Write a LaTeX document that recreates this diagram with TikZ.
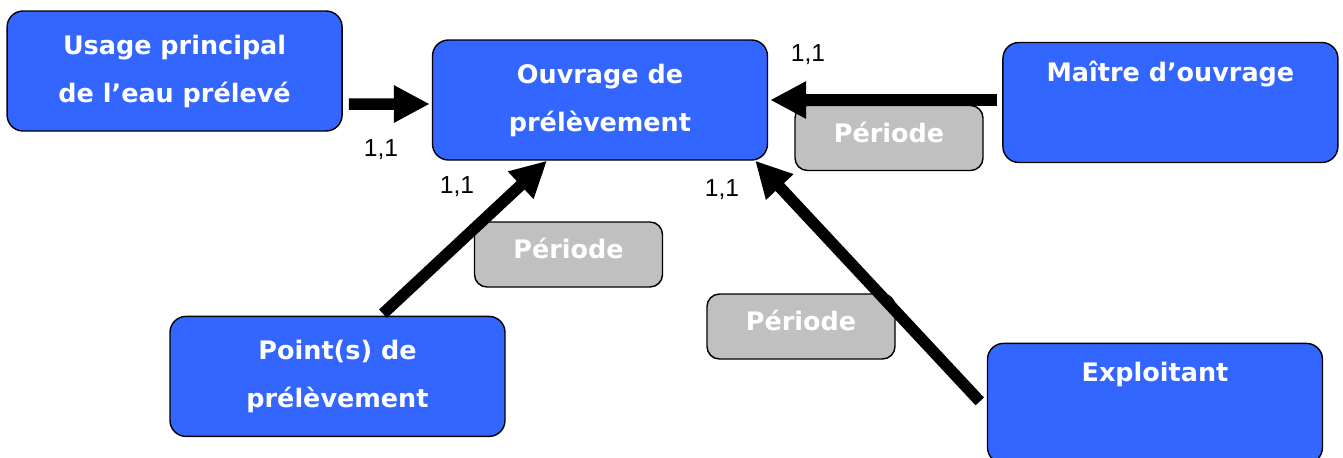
\documentclass[tikz,border=0pt]{standalone}
\usepackage{fontspec}
\setmainfont{DejaVu Sans}
\newfontfamily\labelfont{Liberation Sans}
\usetikzlibrary{arrows.meta, positioning}

\definecolor{boxblue}{HTML}{3366FF}
\definecolor{periodgray}{HTML}{C0C0C0}

\begin{document}
\begin{tikzpicture}[
    every node/.style={align=center},
    entity/.style={
        draw,
        line width=0.8pt,
        fill=boxblue,
        rounded corners=0.32cm,
        minimum width=6.7cm,
        minimum height=2.4cm,
        text=white,
        font=\fontsize{14.5}{27.3}\selectfont\bfseries
    },
    period/.style={
        draw,
        line width=0.8pt,
        fill=periodgray,
        rounded corners=0.25cm,
        minimum width=3.76cm,
        minimum height=1.3cm,
        text height=0.8em,
        text depth=0.3em,
        text=white,
        font=\fontsize{14.5}{17}\selectfont\bfseries
    },
    card/.style={
        font=\labelfont\fontsize{14}{16}\selectfont
    },
    link/.style={
        -{Triangle[length=0.72cm,width=0.7cm]},
        line width=0.23cm
    }
]
\useasboundingbox (0,0) rectangle (26.86,-9.14);

\node[entity] (ouvrage) at (12,-2) {Ouvrage de\\prélèvement};

\node[entity, left=1.78cm of ouvrage, yshift=0.58cm] (usage)
{Usage principal\\de l’eau prélevé};

\node[entity, right=4.68cm of ouvrage, yshift=-0.05cm] (maitre)
{Maître d’ouvrage\\\strut};

\node[entity, below=3.1cm of ouvrage, xshift=-5.25cm] (point)
{Point(s) de\\prélèvement};

\node[entity, below=3.64cm of ouvrage, xshift=11.1cm] (exploitant)
{Exploitant\\\strut};

\node[period] (periode1) at (17.78,-2.76) {Période};
\node[period] (periode2) at (11.37,-5.09) {Période};
\node[period] (periode3) at (16.02,-6.53) {Période};

\node[card] (card1) at (16.16,-1.1) {1,1};
\node[card] (card2) at (7.62,-3.0) {1,1};
\node[card] (card3) at (9.14,-3.74) {1,1};
\node[card] (card4) at (14.44,-3.8) {1,1};

\draw[link] ([xshift=0.12cm,yshift=-0.66cm]usage.east) -- ([xshift=-0.04cm,yshift=-0.08cm]ouvrage.west);
\draw[link] ([xshift=-0.1cm,yshift=0.05cm]maitre.west) -- ([xshift=0.04cm]ouvrage.east);
\draw[link] ([xshift=0.91cm,yshift=0.04cm]point.north) -- ([xshift=-1.06cm]ouvrage.south);
\draw[link] ([xshift=-0.14cm,yshift=0.04cm]exploitant.west) -- ([xshift=-0.26cm]ouvrage.south east);

\end{tikzpicture}
\end{document}
